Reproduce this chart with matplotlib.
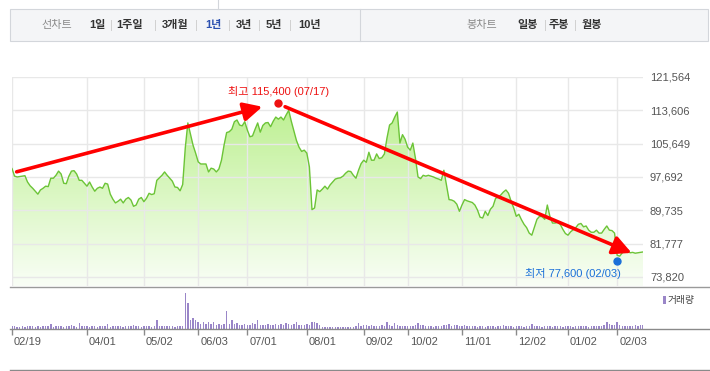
import numpy as np
import matplotlib
matplotlib.use("Agg")
import matplotlib.pyplot as plt
import matplotlib.transforms as mtrans
from matplotlib.lines import Line2D
from matplotlib.patches import Rectangle

plt.rcParams["font.family"] = ["Liberation Sans", "Noto Sans CJK KR"]

# --------------------------------------------
# DATA (daily close, volume in thousand shares)
# --------------------------------------------
close = [
    99700, 97900, 97700, 97800, 97900, 98000, 96500, 95600, 95000, 94300,
    93600, 94600, 95000, 95500, 95400, 97400, 97400, 98100, 99100, 98400,
    96200, 96100, 97900, 99100, 99200, 98400, 96900, 96900, 96200, 95500,
    96500, 95300, 94300, 95000, 95300, 95000, 96200, 96000, 93600,
    92400, 91500, 91900, 92400, 91500, 92400, 92800, 92200, 90700, 91000, 92400,
    92800, 91800, 92600, 93800, 93500, 93700, 96900, 97500, 98100, 98900,
    98100, 97400, 96700, 95300, 95200, 94400, 95900, 104600, 110600, 107900,
    105300, 103400, 101300, 100800, 100800, 100800, 98900, 99800, 99600, 98900,
    99600, 101700, 105300, 108300, 108500, 109100, 110900, 111300, 110100, 109900,
    110900, 108900, 107300, 107500, 109100, 110600, 108400, 110000, 110600, 110700,
    109700, 111000, 112000, 111500, 112000, 111300, 112500, 113600, 111000, 108700,
    106400, 104800, 103800, 104100, 103400, 100100, 89900, 90300, 94600, 94200,
    94800, 95500, 94800, 95800, 96500, 97200, 97400, 97500, 97900, 98600,
    99100, 99000, 98100, 97400, 99300, 100900, 101700, 101200, 103600, 101700,
    101700, 103200, 102100, 102300, 103200, 107000, 110100, 110600, 112000, 113200,
    105800, 107800, 106700, 104800, 104100, 105800, 102200, 97700, 97300, 98100,
    97900, 98100, 97900, 97700, 97400, 97200, 96900, 99300, 95800, 92300,
    92200, 91900, 91200, 89500, 91000, 92300, 92000, 91800, 91600, 91000,
    89800, 88100, 87900, 89500, 88500, 90000, 90700, 92600, 92900, 93400,
    94100, 94600, 93800, 91900, 90300, 88300, 88800, 87500, 86400, 85600,
    84300, 83800, 85700, 87600, 88300, 88200, 87600, 91000, 88300, 86700,
    86700, 86900, 86400, 85200, 84200, 83800, 84600, 85100, 85600, 86400,
    86600, 85800, 86000, 85000, 84500, 84500, 85000, 84300, 84300, 85200,
    86000, 85000, 84900, 84300, 79000, 78800, 79600, 80000, 80100, 79600,
    79700, 79500, 79600, 79700, 79800,
]

volume = [
    75, 80, 55, 45, 70, 60, 85, 75, 70, 60,
    65, 55, 75, 80, 70, 118, 60, 85, 75, 70,
    60, 80, 75, 90, 70, 60, 143, 65, 70, 80,
    60, 75, 70, 55, 80, 85, 65, 118, 60, 85,
    70, 65, 75, 60, 70, 65, 80, 93, 75, 70,
    60, 75, 70, 65, 60, 70, 218, 75, 80, 65,
    70, 75, 65, 60, 70, 65, 80, 893, 643, 218,
    268, 225, 175, 133, 168, 118, 168, 125, 168, 100,
    118, 100, 130, 443, 118, 218, 118, 140, 110, 100,
    125, 100, 110, 140, 118, 218, 110, 100, 90, 120,
    95, 110, 130, 100, 118, 110, 140, 125, 100, 115,
    168, 110, 95, 100, 120, 110, 168, 168, 140, 110,
    60, 50, 55, 45, 50, 40, 45, 50, 40, 55,
    45, 60, 50, 65, 143, 70, 90, 110, 75, 95,
    80, 85, 70, 90, 75, 168, 100, 80, 143, 90,
    85, 75, 70, 65, 80, 75, 95, 143, 110, 90,
    80, 70, 75, 60, 70, 65, 80, 95, 100, 118,
    80, 110, 95, 70, 85, 90, 65, 80, 70, 75,
    60, 65, 70, 60, 65, 75, 70, 60, 80, 65,
    93, 70, 65, 80, 60, 75, 70, 65, 60, 75,
    70, 118, 75, 65, 80, 60, 75, 70, 85, 60,
    70, 65, 75, 60, 70, 80, 75, 60, 85, 70,
    75, 65, 80, 60, 70, 75, 65, 80, 70, 110,
    168, 125, 90, 110, 168, 95, 80, 85, 75, 70,
    80, 90, 75, 100, 95,
]

date_labels = ["02/19", "04/01", "05/02", "06/03", "07/01", "08/01",
               "09/02", "10/02", "11/01", "12/02", "01/02", "02/03"]
date_pos = [0, 29, 51, 72, 91, 114, 136, 153, 174, 195, 215, 234]

price_ticks = [73820, 81777, 89735, 97692, 105649, 113606, 121564]

high_idx, high_val, high_label = 103, 115400, "최고 115,400 (07/17)"
low_idx, low_val, low_label = 234, 77600, "최저 77,600 (02/03)"

# hand drawn trend arrows (index, price)
trend_up = ((1.8, 98930), (96.8, 114466))
trend_down = ((105.6, 114466), (239.6, 79570))

menu_left = ["1일", "1주일", "3개월", "1년", "3년", "5년", "10년"]
menu_left_x = [97, 130, 175, 213, 244, 274, 310]
menu_left_sep = [111, 155, 196, 228.5, 259, 290]
menu_right = ["일봉", "주봉", "월봉"]
menu_right_x = [528, 559, 592]
menu_right_sep = [545, 575]

# --------------------------------------------
# LAYOUT HELPERS (pixel -> figure fraction)
# --------------------------------------------
W, H = 710, 371


def fx(px):
    return px / W


def fy(py):
    return 1 - py / H


fig = plt.figure(figsize=(W / 100, H / 100), dpi=100)

# --------------------------------------------
# TOP MENU BAR
# --------------------------------------------
fig.add_artist(Rectangle((fx(9.5), fy(40.5)), fx(708) - fx(9.5), fy(9) - fy(40.5),
                         transform=fig.transFigure, facecolor="#f4f5f7",
                         edgecolor="#d3d6db", lw=0.8))
fig.add_artist(Line2D([fx(360)] * 2, [fy(9), fy(40.5)], color="#d3d6db", lw=0.8))
fig.add_artist(Line2D([fx(218.5)] * 2, [fy(0), fy(9)], color="#d3d6db", lw=0.8))

fig.text(fx(57), fy(25), "선차트", ha="center", va="center", fontsize=8, color="#8a8a8a")
for lab, x in zip(menu_left, menu_left_x):
    col = "#2b50b0" if lab == "1년" else "#333333"
    fig.text(fx(x), fy(25), lab, ha="center", va="center", fontsize=8,
             fontweight="bold", color=col)
for sx in menu_left_sep:
    fig.add_artist(Line2D([fx(sx)] * 2, [fy(20), fy(30)], color="#d0d0d0", lw=0.7))

fig.text(fx(482), fy(25), "봉차트", ha="center", va="center", fontsize=8, color="#8a8a8a")
for lab, x in zip(menu_right, menu_right_x):
    fig.text(fx(x), fy(25), lab, ha="center", va="center", fontsize=8,
             fontweight="bold", color="#333333")
for sx in menu_right_sep:
    fig.add_artist(Line2D([fx(sx)] * 2, [fy(20), fy(30)], color="#d0d0d0", lw=0.7))

# --------------------------------------------
# PRICE PANEL
# --------------------------------------------
n = len(close)
idx = np.arange(n)
y_top = price_ticks[-1]
step = (price_ticks[-1] - price_ticks[0]) / 200.0  # price per pixel
y_bot = y_top - 209 * step

ax = fig.add_axes([fx(12), fy(286), fx(643) - fx(12), fy(77) - fy(286)])
ax.set_facecolor("none")

poly = ax.fill_between(idx, close, y_bot, facecolor="none", edgecolor="none")
c_top = np.array([180, 238, 130]) / 255
c_bot = np.array([249, 254, 246]) / 255
g = np.linspace(0, 1, 256).reshape(-1, 1, 1)
grad = c_top * (1 - g) + c_bot * g
im = ax.imshow(grad, extent=[0, n - 1, y_bot, y_top], aspect="auto",
               origin="upper", zorder=1, interpolation="bilinear")
im.set_clip_path(poly.get_paths()[0], transform=ax.transData)

ax.plot(idx, close, color="#6cc437", lw=1.0, zorder=3)

ax.set_xlim(0, n - 1)
ax.set_ylim(y_bot, y_top)
ax.set_xticks(date_pos)
ax.set_yticks(price_ticks)
ax.set_yticklabels([f"{v:,}" for v in price_ticks])
ax.yaxis.tick_right()
ax.tick_params(axis="y", length=0, pad=5, labelsize=8, labelcolor="#555555")
ax.tick_params(axis="x", length=0, labelbottom=False)
ax.set_axisbelow("line")
ax.grid(True, color="#e8e8e8", lw=1)
for s in ax.spines.values():
    s.set_visible(False)

# high / low markers
ax.plot(high_idx, high_val, "o", color="#ee1111", ms=5, zorder=6, clip_on=False)
ax.annotate(high_label, (high_idx, high_val), xytext=(0, 11), textcoords="offset pixels",
            ha="center", va="center", fontsize=8, color="#ee1111", zorder=6)
ax.plot(low_idx, low_val, "o", color="#1a6fd8", ms=5, zorder=6, clip_on=False)
ax.annotate(low_label, (low_idx, low_val), xytext=(4, -12), textcoords="offset pixels",
            ha="right", va="center", fontsize=8, color="#1a6fd8", zorder=6)

# trend arrows
for start, end in (trend_up, trend_down):
    ax.annotate("", xy=end, xytext=start,
                arrowprops=dict(arrowstyle="-|>", color="#ff0000", lw=2.6,
                                mutation_scale=28, shrinkA=0, shrinkB=0),
                zorder=7, annotation_clip=False)

# --------------------------------------------
# VOLUME PANEL
# --------------------------------------------
ax2 = fig.add_axes([fx(12), fy(329), fx(643) - fx(12), fy(287) - fy(329)])
ax2.set_facecolor("none")
ax2.bar(idx, volume, width=0.55, color="#9a86c8", zorder=2)
ax2.set_xlim(0, n - 1)
ax2.set_ylim(0, 1050)
ax2.set_yticks([])
ax2.set_xticks(date_pos)
ax2.set_xticklabels([])
ax2.tick_params(axis="x", direction="out", length=4, width=1, color="#8a8a8a")
for s in ax2.spines.values():
    s.set_visible(False)

lab_tr = mtrans.offset_copy(ax2.get_xaxis_transform(), fig=fig, x=2, y=-13, units="dots")
for p, lab in zip(date_pos, date_labels):
    ax2.text(p, 0, lab, transform=lab_tr, ha="left", va="center",
             fontsize=8, color="#555555")

# legend for volume
fig.add_artist(Rectangle((fx(663), fy(304)), fx(3), fy(296) - fy(304),
                         transform=fig.transFigure, facecolor="#9a86c8", edgecolor="none"))
fig.text(fx(668), fy(299.5), "거래량", ha="left", va="center", fontsize=7, color="#444444")

# frame lines
for py, col in ((287, "#9a9a9a"), (329, "#8a8a8a"), (370, "#8a8a8a")):
    fig.add_artist(Line2D([fx(10), fx(710)], [fy(py)] * 2, color=col, lw=1))

fig.savefig("out.png", dpi=100)
